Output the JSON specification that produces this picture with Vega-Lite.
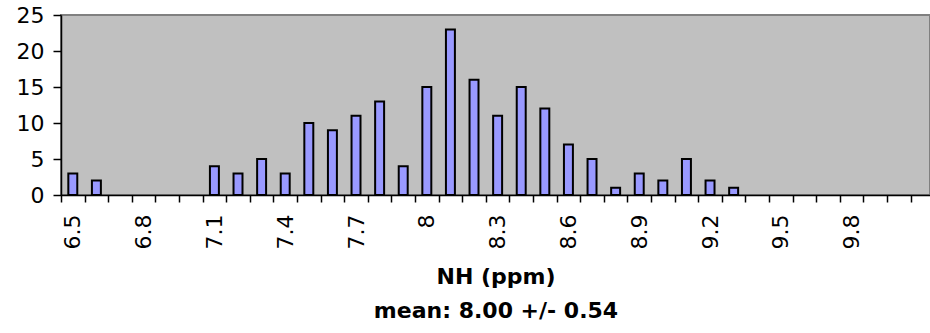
{
  "$schema": "https://vega.github.io/schema/vega-lite/v6.json",
  "width": 869,
  "height": 180,
  "autosize": {"type": "none"},
  "padding": {"left": 61, "top": 15, "right": 0, "bottom": 138},
  "background": "white",
  "config": {
    "font": "DejaVu Sans",
    "view": {"fill": "#C0C0C0", "stroke": "#808080", "strokeWidth": 2}
  },
  "data": {
    "values": [
      {"nh": 6.5, "count": 3}, {"nh": 6.6, "count": 2}, {"nh": 6.7, "count": 0},
      {"nh": 6.8, "count": 0}, {"nh": 6.9, "count": 0}, {"nh": 7.0, "count": 0},
      {"nh": 7.1, "count": 4}, {"nh": 7.2, "count": 3}, {"nh": 7.3, "count": 5},
      {"nh": 7.4, "count": 3}, {"nh": 7.5, "count": 10}, {"nh": 7.6, "count": 9},
      {"nh": 7.7, "count": 11}, {"nh": 7.8, "count": 13}, {"nh": 7.9, "count": 4},
      {"nh": 8.0, "count": 15}, {"nh": 8.1, "count": 23}, {"nh": 8.2, "count": 16},
      {"nh": 8.3, "count": 11}, {"nh": 8.4, "count": 15}, {"nh": 8.5, "count": 12},
      {"nh": 8.6, "count": 7}, {"nh": 8.7, "count": 5}, {"nh": 8.8, "count": 1},
      {"nh": 8.9, "count": 3}, {"nh": 9.0, "count": 2}, {"nh": 9.1, "count": 5},
      {"nh": 9.2, "count": 2}, {"nh": 9.3, "count": 1}, {"nh": 9.4, "count": 0},
      {"nh": 9.5, "count": 0}, {"nh": 9.6, "count": 0}, {"nh": 9.7, "count": 0},
      {"nh": 9.8, "count": 0}, {"nh": 9.9, "count": 0}, {"nh": 10.0, "count": 0}
    ]
  },
  "mark": {"type": "bar", "fill": "#9999FF", "stroke": "black", "strokeWidth": 2, "width": {"band": 0.38}},
  "encoding": {
    "x": {
      "field": "nh",
      "type": "ordinal",
      "scale": {"paddingInner": 0, "paddingOuter": 0.41, "align": 0},
      "axis": {
        "tickBand": "extent",
        "labelAngle": 270,
        "labelAlign": "right",
        "labelBaseline": "middle",
        "labelFontSize": 22,
        "labelColor": "black",
        "labelPadding": 12,
        "labelOverlap": false,
        "labelFlush": false,
        "labelExpr": "(round((datum.value - 6.5) * 10) % 3 == 0 && datum.value < 10) ? datum.label : ''",
        "tickSize": 7,
        "tickColor": "black",
        "tickWidth": 1.5,
        "domainColor": "black",
        "domainWidth": 1.5,
        "title": ["NH (ppm)", "mean: 8.00 +/- 0.54"],
        "titleFontSize": 22,
        "titleFontWeight": "bold",
        "titleColor": "black",
        "titleLineHeight": 34,
        "titlePadding": 18
      }
    },
    "y": {
      "field": "count",
      "type": "quantitative",
      "scale": {"domain": [0, 25]},
      "axis": {
        "values": [0, 5, 10, 15, 20, 25],
        "grid": false,
        "title": null,
        "tickSize": 8,
        "tickColor": "black",
        "tickWidth": 1.5,
        "domainColor": "black",
        "domainWidth": 1.5,
        "labelFontSize": 22,
        "labelColor": "black",
        "labelPadding": 9
      }
    },
    "strokeOpacity": {"condition": {"test": "datum.count == 0", "value": 0}, "value": 1}
  }
}
